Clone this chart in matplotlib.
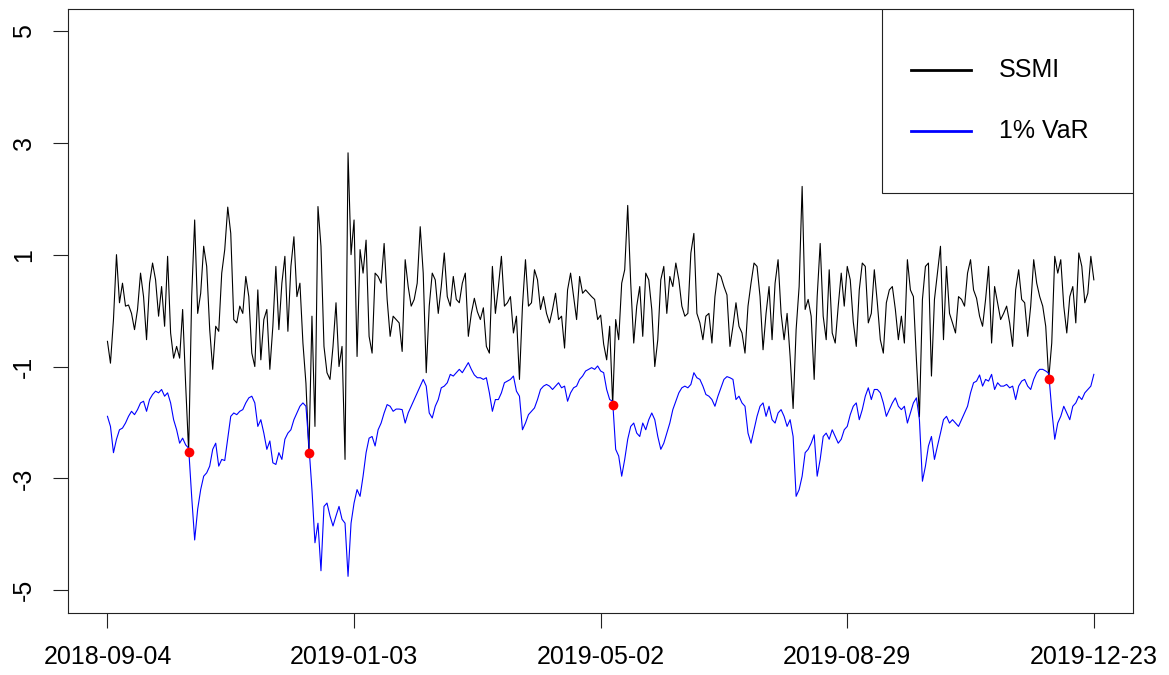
import matplotlib
matplotlib.use("Agg")
import matplotlib.pyplot as plt
import numpy as np

plt.rcParams["font.family"] = ["Liberation Sans", "DejaVu Sans"]

# ---- data ----
ssmi = [
    -0.55, -0.94, -0.16, 1.00, 0.14, 0.49, 0.08, 0.10, -0.05, -0.34,
    0.02, 0.67, 0.25, -0.52, 0.49, 0.85, 0.55, -0.10, 0.43, -0.28,
    0.97, -0.40, -0.85, -0.64, -0.85, 0.02, -1.32, -2.52, 0.25, 1.62,
    -0.05, 0.31, 1.15, 0.79, -0.34, -1.05, -0.28, -0.37, 0.67, 1.09,
    1.85, 1.38, -0.16, -0.22, 0.08, -0.05, 0.61, 0.25, -0.76, -1.00,
    0.37, -0.88, -0.16, 0.02, -1.05, -0.28, 0.79, -0.34, 0.49, 0.97,
    -0.37, 0.79, 1.32, 0.25, 0.49, -0.58, -1.30, -2.55, -0.10, -2.07,
    1.86, 1.15, -0.64, -1.11, -1.23, -0.64, 0.14, -1.00, -0.64, -2.66,
    2.82, 1.00, 1.62, -0.82, 1.09, 0.67, 1.26, -0.46, -0.76, 0.67,
    0.61, 0.49, 1.20, 0.20, -0.46, -0.10, -0.16, -0.22, -0.73, 0.91,
    0.43, 0.08, 0.20, 0.49, 1.50, 0.67, -1.11, 0.08, 0.67, 0.55,
    -0.05, 0.43, 1.03, 0.25, 0.08, 0.61, 0.20, 0.14, 0.49, 0.67,
    -0.46, -0.05, 0.22, -0.02, -0.16, 0.05, -0.64, -0.76, 0.79, -0.05,
    0.43, 0.97, 0.08, 0.14, 0.25, -0.40, -0.10, -1.23, 0.08, 0.91,
    0.08, 0.14, 0.73, 0.55, 0.02, 0.25, -0.05, -0.22, 0.02, 0.31,
    -0.16, -0.10, -0.67, 0.37, 0.67, 0.25, -0.16, 0.61, 0.31, 0.37,
    0.31, 0.25, 0.20, -0.16, -0.08, -0.60, -0.88, -0.28, -1.68, -0.16,
    -0.52, 0.49, 0.73, 1.88, 0.49, -0.58, 0.08, 0.43, -0.46, 0.67,
    0.55, 0.02, -1.00, -0.52, 0.55, 0.79, -0.05, 0.61, 0.43, 0.85,
    0.55, 0.08, -0.10, -0.05, 1.03, 1.38, -0.05, -0.22, -0.52, -0.10,
    -0.05, -0.58, 0.25, 0.67, 0.61, 0.43, 0.28, -0.64, -0.28, 0.14,
    -0.28, -0.40, -0.76, 0.08, 0.49, 0.85, 0.79, 0.25, -0.70, -0.05,
    0.43, -0.52, 0.49, 0.91, -0.05, -0.52, -0.05, -0.82, -1.75, -0.34,
    0.43, 2.22, 0.02, 0.20, -0.10, -1.23, 0.25, 1.20, -0.10, -0.52,
    0.73, -0.40, -0.58, 0.08, 0.67, 0.08, 0.79, 0.55, -0.20, -0.64,
    0.37, 0.85, 0.79, -0.22, -0.05, 0.73, 0.14, -0.52, -0.76, 0.14,
    0.37, 0.43, 0.02, -0.52, -0.10, -0.58, 0.91, 0.37, 0.25, -0.88,
    -1.90, 0.20, 0.79, 0.85, -1.17, 0.20, 0.67, 1.15, -0.52, 0.79,
    -0.05, -0.22, -0.40, 0.25, 0.20, 0.08, 0.67, 0.91, 0.37, 0.22,
    -0.10, -0.28, 0.20, 0.79, -0.58, 0.43, 0.14, -0.16, -0.05, 0.08,
    -0.22, -0.64, 0.37, 0.73, 0.20, 0.14, -0.46, 0.08, 0.91, 0.49,
    0.25, 0.08, -0.28, -1.22, -0.58, 0.97, 0.67, 0.91, 0.08, -0.40,
    0.25, 0.43, -0.22, 1.03, 0.79, 0.14, 0.31, 0.97, 0.55,
]

var_1pct = [
    -1.89, -2.07, -2.54, -2.30, -2.13, -2.10, -2.01, -1.89, -1.80, -1.86,
    -1.77, -1.65, -1.62, -1.80, -1.59, -1.50, -1.44, -1.47, -1.41, -1.53,
    -1.47, -1.65, -1.95, -2.13, -2.37, -2.28, -2.40, -2.46, -3.32, -4.10,
    -3.55, -3.20, -2.96, -2.90, -2.78, -2.48, -2.37, -2.78, -2.66, -2.68,
    -2.28, -1.89, -1.83, -1.86, -1.80, -1.77, -1.65, -1.56, -1.53, -1.65,
    -2.07, -1.95, -2.19, -2.48, -2.33, -2.72, -2.75, -2.54, -2.66, -2.30,
    -2.19, -2.13, -1.95, -1.83, -1.71, -1.65, -1.71, -2.42, -3.20, -4.15,
    -3.80, -4.65, -3.50, -3.44, -3.67, -3.85, -3.67, -3.50, -3.73, -3.80,
    -4.75, -3.80, -3.44, -3.20, -3.32, -2.96, -2.54, -2.28, -2.25, -2.42,
    -2.13, -2.01, -1.83, -1.68, -1.71, -1.80, -1.76, -1.76, -1.77, -2.01,
    -1.83, -1.71, -1.59, -1.47, -1.35, -1.23, -1.35, -1.83, -1.92, -1.71,
    -1.59, -1.38, -1.35, -1.29, -1.14, -1.17, -1.11, -1.05, -1.11, -1.02,
    -0.93, -1.05, -1.15, -1.20, -1.20, -1.23, -1.20, -1.47, -1.80, -1.59,
    -1.59, -1.47, -1.29, -1.26, -1.23, -1.17, -1.44, -1.53, -2.13, -2.01,
    -1.86, -1.80, -1.74, -1.59, -1.41, -1.35, -1.32, -1.35, -1.41, -1.35,
    -1.29, -1.38, -1.35, -1.62, -1.47, -1.38, -1.35, -1.23, -1.17, -1.08,
    -1.05, -1.02, -1.05, -0.99, -1.08, -1.11, -1.41, -1.59, -1.62, -2.48,
    -2.60, -2.96, -2.66, -2.30, -2.07, -2.01, -2.19, -2.25, -2.01, -2.13,
    -1.95, -1.83, -1.95, -2.25, -2.48, -2.37, -2.19, -2.01, -1.77, -1.62,
    -1.47, -1.38, -1.35, -1.38, -1.32, -1.11, -1.20, -1.23, -1.35, -1.50,
    -1.53, -1.59, -1.71, -1.53, -1.38, -1.23, -1.18, -1.20, -1.23, -1.59,
    -1.53, -1.65, -1.71, -2.19, -2.37, -2.13, -1.89, -1.71, -1.65, -1.89,
    -1.71, -1.95, -2.01, -1.83, -1.77, -1.89, -2.07, -1.95, -2.25, -3.32,
    -3.20, -2.96, -2.54, -2.48, -2.37, -2.22, -2.96, -2.66, -2.25, -2.19,
    -2.30, -2.13, -2.25, -2.37, -2.30, -2.13, -2.07, -1.86, -1.71, -1.65,
    -1.95, -1.77, -1.53, -1.38, -1.59, -1.41, -1.41, -1.47, -1.65, -1.89,
    -1.77, -1.65, -1.56, -1.71, -1.77, -1.71, -2.01, -1.83, -1.65, -1.56,
    -1.95, -3.05, -2.78, -2.42, -2.25, -2.66, -2.42, -2.19, -1.95, -1.89,
    -2.01, -1.95, -2.01, -2.07, -1.95, -1.83, -1.71, -1.47, -1.29, -1.26,
    -1.15, -1.35, -1.23, -1.26, -1.14, -1.41, -1.29, -1.35, -1.35, -1.32,
    -1.38, -1.35, -1.59, -1.35, -1.26, -1.23, -1.35, -1.41, -1.23, -1.11,
    -1.05, -1.05, -1.08, -1.12, -1.77, -2.30, -2.01, -1.89, -1.71, -1.83,
    -1.95, -1.71, -1.65, -1.53, -1.59, -1.47, -1.41, -1.35, -1.14,
]

date_labels = ["2018-09-04", "2019-01-03", "2019-05-02", "2019-08-29", "2019-12-23"]
y_ticks = [-5, -3, -1, 1, 3, 5]

assert len(ssmi) == len(var_1pct)

ssmi = np.array(ssmi)
var_1pct = np.array(var_1pct)
idx = np.arange(len(ssmi))
hit = ssmi < var_1pct   # VaR exceedances

# ---- figure ----
W, H = 1169, 675
fig = plt.figure(figsize=(W / 100, H / 100), dpi=100)
ax = fig.add_axes([68 / W, (H - 612.7) / H, 1065.3 / W, 604.2 / H])

ax.plot(idx, ssmi, color="black", linewidth=0.8)
ax.plot(idx, var_1pct, color="blue", linewidth=0.8)
ax.plot(idx[hit], ssmi[hit], "o", color="red", markersize=7, markeredgewidth=0)

n = len(idx)
pad = 0.04 * (n - 1)
ax.set_xlim(-pad, n - 1 + pad)
ax.set_ylim(-5.4, 5.4)

ax.set_xticks(np.linspace(0, n - 1, 5))
ax.set_xticklabels(date_labels, fontsize=18)
ax.set_yticks(y_ticks)
ax.set_yticklabels([str(v) for v in y_ticks], fontsize=18, rotation=90, va="center")

ax.tick_params(axis="both", direction="out", length=11, width=0.8, color="#222222")
ax.tick_params(axis="x", pad=12)
ax.tick_params(axis="y", pad=12)
for sp in ax.spines.values():
    sp.set_linewidth(0.8)
    sp.set_color("#222222")

# legend box (R style, top right corner)
ax.add_patch(plt.Rectangle((0.764, 0.695), 0.236, 0.305, transform=ax.transAxes,
                           facecolor="white", edgecolor="#222222", linewidth=0.8, zorder=5))
ax.plot([0.791, 0.848], [0.898, 0.898], color="black", linewidth=2,
        transform=ax.transAxes, zorder=6)
ax.plot([0.791, 0.848], [0.797, 0.797], color="blue", linewidth=2,
        transform=ax.transAxes, zorder=6)
ax.text(0.874, 0.898, "SSMI", fontsize=18, va="center", transform=ax.transAxes, zorder=6)
ax.text(0.874, 0.797, "1% VaR", fontsize=18, va="center", transform=ax.transAxes, zorder=6)

fig.savefig("out.png", dpi=100)
